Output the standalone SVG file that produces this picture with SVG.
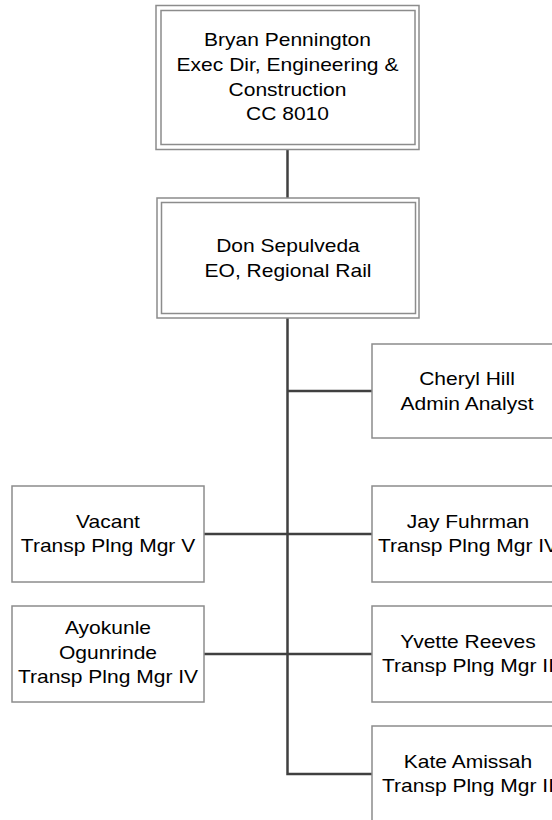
<svg xmlns="http://www.w3.org/2000/svg" width="552" height="820" viewBox="0 0 552 820">
<style>
.box{fill:#fff;stroke:#8c8c8c;stroke-width:1.5}
.conn{stroke:#404040;stroke-width:2.5;fill:none}
.t{font-family:"Liberation Sans",Arial,sans-serif;font-size:18.6px;fill:#000;text-anchor:middle}
</style>
<rect x="0" y="0" width="552" height="820" fill="#fff"/>
<g id="connectors">
<line class="conn" x1="287.5" y1="149" x2="287.5" y2="198"/>
<polyline class="conn" points="287.5,318 287.5,774 372,774"/>
<line class="conn" x1="287.5" y1="391" x2="372" y2="391"/>
<line class="conn" x1="204" y1="534" x2="372" y2="534"/>
<line class="conn" x1="204" y1="654" x2="372" y2="654"/>
</g>
<g id="bryan">
<rect class="box" x="156" y="5.5" width="263" height="144"/>
<rect class="box" x="161" y="10.5" width="254" height="134"/>
<g transform="translate(287.5,0) scale(1.13,1)">
<text class="t" x="0" y="46.5">Bryan Pennington</text>
<text class="t" x="0" y="71.5">Exec Dir, Engineering &amp;</text>
<text class="t" x="0" y="96">Construction</text>
<text class="t" x="0" y="120.5">CC 8010</text>
</g>
</g>
<g id="don">
<rect class="box" x="157" y="198" width="262" height="120"/>
<rect class="box" x="161.5" y="202.5" width="254" height="111"/>
<g transform="translate(288,0) scale(1.13,1)">
<text class="t" x="0" y="252">Don Sepulveda</text>
<text class="t" x="0" y="277">EO, Regional Rail</text>
</g>
</g>
<g id="cheryl">
<rect class="box" x="372" y="344" width="192" height="94"/>
<g transform="translate(467,0) scale(1.13,1)">
<text class="t" x="0" y="385">Cheryl Hill</text>
<text class="t" x="0" y="410">Admin Analyst</text>
</g>
</g>
<g id="vacant">
<rect class="box" x="12" y="486" width="192" height="96"/>
<g transform="translate(108,0) scale(1.13,1)">
<text class="t" x="0" y="528">Vacant</text>
<text class="t" x="0" y="552.5">Transp Plng Mgr V</text>
</g>
</g>
<g id="jay">
<rect class="box" x="372" y="486" width="192" height="96"/>
<g transform="translate(468,0) scale(1.13,1)">
<text class="t" x="0" y="528">Jay Fuhrman</text>
<text class="t" x="0" y="552.5">Transp Plng Mgr IV</text>
</g>
</g>
<g id="ayokunle">
<rect class="box" x="12" y="606" width="192" height="96"/>
<g transform="translate(108,0) scale(1.13,1)">
<text class="t" x="0" y="634.5">Ayokunle</text>
<text class="t" x="0" y="659">Ogunrinde</text>
<text class="t" x="0" y="683.5">Transp Plng Mgr IV</text>
</g>
</g>
<g id="yvette">
<rect class="box" x="372" y="606" width="192" height="96"/>
<g transform="translate(468,0) scale(1.13,1)">
<text class="t" x="0" y="648">Yvette Reeves</text>
<text class="t" x="0" y="672.5">Transp Plng Mgr II</text>
</g>
</g>
<g id="kate">
<rect class="box" x="372" y="726" width="192" height="96"/>
<g transform="translate(468,0) scale(1.13,1)">
<text class="t" x="0" y="768">Kate Amissah</text>
<text class="t" x="0" y="792.5">Transp Plng Mgr II</text>
</g>
</g>
</svg>
